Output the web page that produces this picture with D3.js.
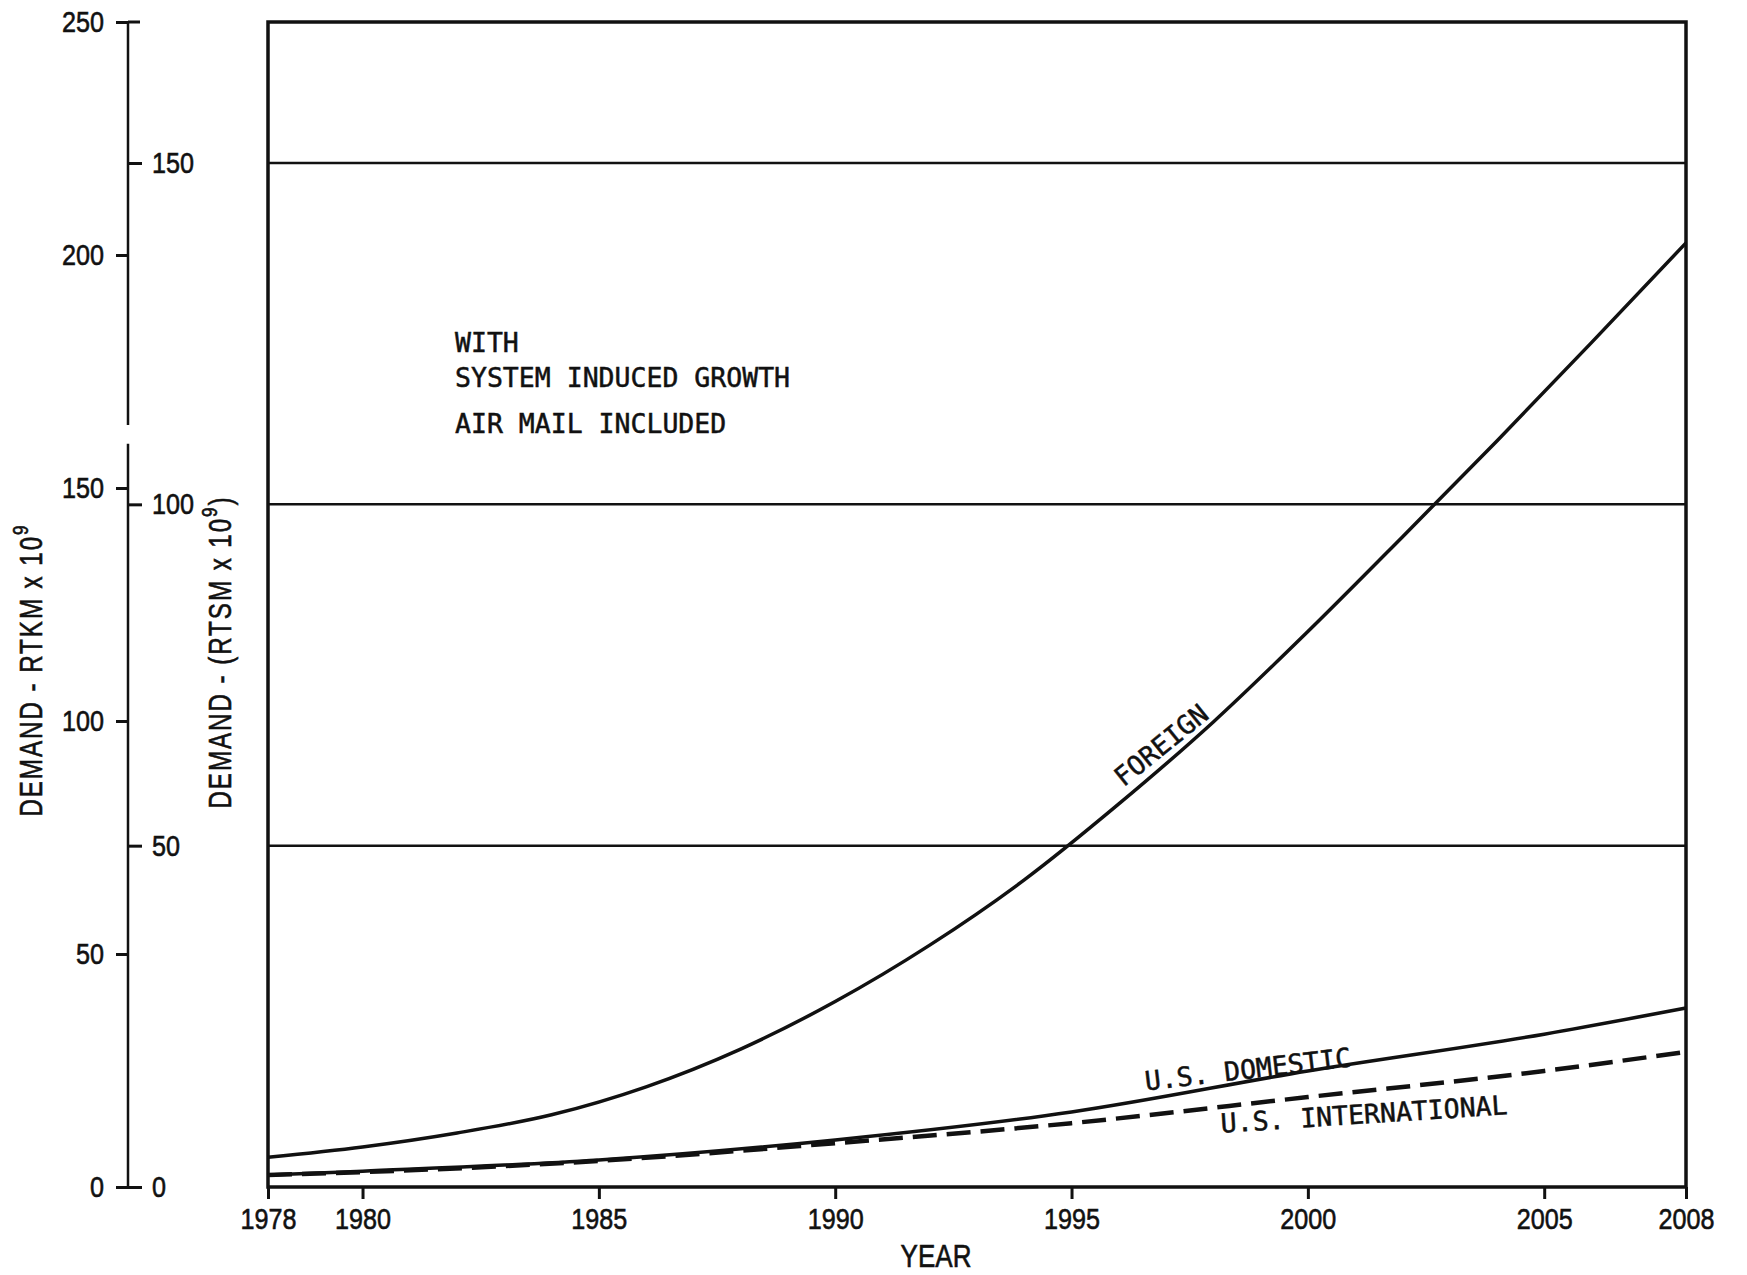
<!DOCTYPE html>
<html>
<head>
<meta charset="utf-8">
<script src="https://cdn.jsdelivr.net/npm/d3@7"></script>
<style>
  body { margin: 0; background: #fff; }
  text { fill: #111; }
</style>
</head>
<body>
<script>
var width = 1747;
var height = 1275;

// values, demand in RTKM x 10^9
var foreignYears = [1978, 1980, 1982, 1984, 1986, 1988, 1990, 1992,
    1994, 1996, 1998, 2000, 2002, 2004, 2006, 2008];
var foreign = [6.4, 8.6, 11.6, 15.5, 21.5, 29.6, 39.8, 51.9,
    65.9, 82.2, 99.8, 119.2, 139.5, 160.1, 181.2, 202.6];

var usYears = [1978, 1980, 1985, 1990, 1995, 2000, 2005, 2008];
var usDomestic = [2.6, 3.4, 5.8, 10.1, 16.1, 24.9, 32.8, 38.4];
var usInternational = [2.6, 3.2, 5.6, 9.4, 13.7, 19.3, 24.9, 29.0];

var yearTicks = [1978, 1980, 1985, 1990, 1995, 2000, 2005, 2008];
var kmTicks = [0, 50, 100, 150, 200, 250];
var mileTicks = [0, 50, 100, 150];
var mileGrid = [50, 100, 150];
// the left spine is broken in the original between these values
var spineGap = [159.5, 163.5];

var notes = ["WITH", "SYSTEM INDUCED GROWTH", "AIR MAIL INCLUDED"];

var plot = {left: 268, right: 1686, top: 22, bottom: 1187};
var spineX = 128;
var labelFont = "'Liberation Sans', Arial, sans-serif";
var typeFont = "'DejaVu Sans Mono', monospace";
// the lettering in the original is narrow, squeeze it sideways
var squeeze = 0.84;

var svg = d3.select("body")
    .append("svg")
    .attr("width", width)
    .attr("height", height);

svg.append("rect")
    .attr("width", width)
    .attr("height", height)
    .attr("fill", "#fff");

var x = d3.scaleLinear()
    .domain([1978, 2008])
    .range([plot.left, plot.right]);

var yKm = d3.scaleLinear()
    .domain([0, 250])
    .range([plot.bottom, plot.top]);

// statute ton-miles, drawn against the same zero
var yMi = d3.scaleLinear()
    .domain([0, 150])
    .range([plot.bottom, 163]);

// horizontal rules at 50, 100, 150 RTSM
svg.selectAll(".grid")
    .data(mileGrid)
    .enter()
    .append("line")
    .attr("class", "grid")
    .attr("x1", plot.left)
    .attr("x2", plot.right)
    .attr("y1", function(d) { return yMi(d); })
    .attr("y2", function(d) { return yMi(d); })
    .attr("stroke", "#111")
    .attr("stroke-width", 2.5);

// plot frame
svg.append("rect")
    .attr("x", plot.left)
    .attr("y", plot.top)
    .attr("width", plot.right - plot.left)
    .attr("height", plot.bottom - plot.top)
    .attr("fill", "none")
    .attr("stroke", "#111")
    .attr("stroke-width", 3.5);

function styleAxis(g, size) {
    g.select(".domain").remove();
    g.attr("font-family", labelFont)
        .attr("font-size", size);
    g.selectAll(".tick line")
        .attr("stroke", "#111")
        .attr("stroke-width", 3);
    g.selectAll(".tick text")
        .attr("fill", "#111")
        .attr("stroke", "#111")
        .attr("stroke-width", 0.6)
        .attr("x", function() { return (+d3.select(this).attr("x") || 0) / squeeze; })
        .attr("transform", "scale(" + squeeze + ",1)");
}

// x axis
var xAxis = d3.axisBottom(x)
    .tickValues(yearTicks)
    .tickSize(12)
    .tickPadding(9)
    .tickFormat(d3.format("d"));

svg.append("g")
    .attr("transform", "translate(0," + plot.bottom + ")")
    .call(xAxis)
    .call(styleAxis, 30);

svg.append("text")
    .attr("transform", "translate(936,1267) scale(" + squeeze + ",1)")
    .attr("text-anchor", "middle")
    .attr("font-family", labelFont)
    .attr("font-size", 31)
    .attr("stroke", "#111")
    .attr("stroke-width", 0.6)
    .text("YEAR");

// double y axis on one spine
svg.append("g")
    .attr("transform", "translate(" + spineX + ",0)")
    .call(d3.axisLeft(yKm).tickValues(kmTicks).tickSize(12).tickPadding(12))
    .call(styleAxis, 30);

svg.append("g")
    .attr("transform", "translate(" + spineX + ",0)")
    .call(d3.axisRight(yMi).tickValues(mileTicks).tickSize(14).tickPadding(10))
    .call(styleAxis, 30);

var spineParts = [[0, spineGap[0]], [spineGap[1], 250]];
svg.selectAll(".spine")
    .data(spineParts)
    .enter()
    .append("line")
    .attr("class", "spine")
    .attr("x1", spineX)
    .attr("x2", spineX)
    .attr("y1", function(d) { return yKm(d[0]); })
    .attr("y2", function(d) { return yKm(d[1]); })
    .attr("stroke", "#111")
    .attr("stroke-width", 2.5);

// cap at the top of the spine
svg.append("line")
    .attr("x1", spineX)
    .attr("x2", spineX + 12)
    .attr("y1", yKm(250))
    .attr("y2", yKm(250))
    .attr("stroke", "#111")
    .attr("stroke-width", 3);

// rotated axis titles
function axisTitle(px, py, main, tail) {
    var t = svg.append("text")
        .attr("transform", "translate(" + px + "," + py + ") rotate(-90) scale(0.78,1)")
        .attr("text-anchor", "middle")
        .attr("font-family", labelFont)
        .attr("font-size", 31)
        .attr("letter-spacing", 2.5)
        .attr("stroke", "#111")
        .attr("stroke-width", 0.6)
        .text(main);
    t.append("tspan")
        .attr("font-size", 22)
        .attr("dy", -14)
        .text("9");
    if (tail) {
        t.append("tspan")
            .attr("dy", 14)
            .text(tail);
    }
}
axisTitle(42, 670, "DEMAND - RTKM x 10");
axisTitle(231, 652, "DEMAND - (RTSM x 10", ")");

// series
var line = d3.line()
    .x(function(d) { return x(d[0]); })
    .y(function(d) { return yKm(d[1]); })
    .curve(d3.curveMonotoneX);

svg.append("path")
    .datum(d3.zip(foreignYears, foreign))
    .attr("d", line)
    .attr("fill", "none")
    .attr("stroke", "#111")
    .attr("stroke-width", 3.5);

svg.append("path")
    .datum(d3.zip(usYears, usDomestic))
    .attr("d", line)
    .attr("fill", "none")
    .attr("stroke", "#111")
    .attr("stroke-width", 3.5);

svg.append("path")
    .datum(d3.zip(usYears, usInternational))
    .attr("d", line)
    .attr("fill", "none")
    .attr("stroke", "#111")
    .attr("stroke-width", 4.5)
    .attr("stroke-dasharray", "24,10");

// typed notes
svg.selectAll(".note")
    .data(notes)
    .enter()
    .append("text")
    .attr("class", "note")
    .attr("x", 455)
    .attr("y", function(d, i) { return [352, 387, 433][i]; })
    .attr("font-family", typeFont)
    .attr("font-size", 26.5)
    .attr("stroke", "#111")
    .attr("stroke-width", 0.5)
    .text(function(d) { return d; });

function curveLabel(txt, cx, cy, angle) {
    svg.append("text")
        .attr("transform", "translate(" + cx + "," + cy + ") rotate(" + angle + ")")
        .attr("text-anchor", "middle")
        .attr("dy", "0.36em")
        .attr("font-family", typeFont)
        .attr("font-size", 26.5)
        .attr("stroke", "#111")
        .attr("stroke-width", 0.5)
        .text(txt);
}
curveLabel("FOREIGN", 1161, 745, -39);
curveLabel("U.S. DOMESTIC", 1248, 1069, -6.7);
curveLabel("U.S. INTERNATIONAL", 1364, 1114, -3.7);
</script>
</body>
</html>
